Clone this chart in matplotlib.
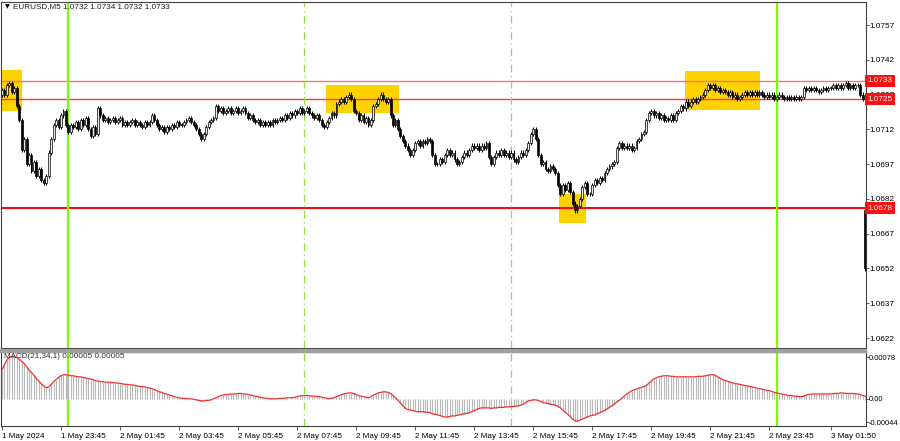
import numpy as np
import matplotlib
matplotlib.use("Agg")
import matplotlib.pyplot as plt
from matplotlib.patches import Rectangle
from matplotlib.transforms import blended_transform_factory

plt.rcParams['font.family'] = ['Liberation Sans', 'DejaVu Sans']

# EURUSD M5, 1 May 21:45 .. 3 May 03:00, close prices per bar
closes = [
    1.0729, 1.0727, 1.0731, 1.0732, 1.0728, 1.0730, 1.0722, 1.0716, 1.0703, 1.0708,
    1.0697, 1.0701, 1.0694, 1.0698, 1.0692, 1.0695, 1.0690, 1.0689, 1.0692, 1.0702,
    1.0708, 1.0714, 1.0716, 1.0713, 1.0718, 1.0720, 1.0714, 1.0711, 1.0714, 1.0713,
    1.0715, 1.0712, 1.0716, 1.0714, 1.0717, 1.0712, 1.0709, 1.0713, 1.0710, 1.0721,
    1.0718, 1.0716, 1.0717, 1.0715, 1.0716, 1.0717, 1.0715, 1.0716, 1.0717, 1.0714,
    1.0715, 1.0714, 1.0715, 1.0716, 1.0714, 1.0715, 1.0714, 1.0713, 1.0715, 1.0714,
    1.0715, 1.0718, 1.0716, 1.0714, 1.0712, 1.0713, 1.0711, 1.0713, 1.0712, 1.0714,
    1.0713, 1.0715, 1.0714, 1.0714, 1.0715, 1.0716, 1.0717, 1.0715, 1.0714, 1.0712,
    1.0710, 1.0708, 1.0710, 1.0713, 1.0715, 1.0716, 1.0717, 1.0722, 1.0720, 1.0721,
    1.0719, 1.0720, 1.0721, 1.0719, 1.0720, 1.0721, 1.0719, 1.0720, 1.0721, 1.0719,
    1.0717, 1.0718, 1.0716, 1.0715, 1.0716, 1.0714, 1.0715, 1.0714, 1.0715, 1.0714,
    1.0716, 1.0715, 1.0716, 1.0717, 1.0716, 1.0718, 1.0717, 1.0719, 1.0718, 1.0720,
    1.0719, 1.0721, 1.0719, 1.0720, 1.0721, 1.0719, 1.0718, 1.0717, 1.0718, 1.0716,
    1.0714, 1.0713, 1.0715, 1.0717, 1.0719, 1.0718, 1.0723, 1.0724, 1.0725, 1.0724,
    1.0726, 1.0727, 1.0725, 1.0720, 1.0719, 1.0716, 1.0718, 1.0715, 1.0717, 1.0714,
    1.0716, 1.0722, 1.0723, 1.0725, 1.0727, 1.0725, 1.0724, 1.0725, 1.0718, 1.0714,
    1.0716, 1.0712, 1.0709, 1.0707, 1.0705, 1.0703, 1.0701, 1.0703, 1.0706, 1.0707,
    1.0705, 1.0707, 1.0706, 1.0708, 1.0707, 1.0701, 1.0697, 1.0697, 1.0699, 1.0698,
    1.0701, 1.0703, 1.0701, 1.0702, 1.0699, 1.0697, 1.0698, 1.0700, 1.0702, 1.0701,
    1.0703, 1.0705, 1.0704, 1.0705, 1.0703, 1.0705, 1.0704, 1.0706, 1.0700, 1.0697,
    1.0700, 1.0702, 1.0701, 1.0703, 1.0701, 1.0702, 1.0700, 1.0702, 1.0699, 1.0698,
    1.0700, 1.0702, 1.0701, 1.0703, 1.0706, 1.0710, 1.0712, 1.0708, 1.0701, 1.0697,
    1.0698, 1.0695, 1.0694, 1.0696, 1.0695, 1.0693, 1.0688, 1.0684, 1.0688, 1.0686,
    1.0689, 1.0685, 1.0680, 1.0677, 1.0679, 1.0682, 1.0687, 1.0689, 1.0684, 1.0684,
    1.0688, 1.0690, 1.0689, 1.0691, 1.0690, 1.0693, 1.0695, 1.0696, 1.0697, 1.0698,
    1.0704, 1.0706, 1.0704, 1.0705, 1.0704, 1.0705, 1.0703, 1.0704, 1.0707, 1.0708,
    1.0710, 1.0711, 1.0716, 1.0719, 1.0720, 1.0718, 1.0719, 1.0717, 1.0718, 1.0716,
    1.0717, 1.0716, 1.0718, 1.0716, 1.0719, 1.0720, 1.0722, 1.0721, 1.0724, 1.0722,
    1.0724, 1.0725, 1.0724, 1.0725, 1.0726, 1.0727, 1.0729, 1.0731, 1.0730, 1.0731,
    1.0729, 1.0730, 1.0728, 1.0729, 1.0728, 1.0727, 1.0728, 1.0726, 1.0727, 1.0725,
    1.0726, 1.0727, 1.0728, 1.0727, 1.0728, 1.0727, 1.0728, 1.0727, 1.0728, 1.0727,
    1.0726, 1.0727, 1.0726, 1.0727, 1.0725, 1.0726, 1.0727, 1.0726, 1.0725, 1.0726,
    1.0725, 1.0726, 1.0725, 1.0726, 1.0725, 1.0726, 1.0730, 1.0729, 1.0730, 1.0729,
    1.0730, 1.0729, 1.0728, 1.0729, 1.0730, 1.0729, 1.0730, 1.0730, 1.0731, 1.0730,
    1.0731, 1.0730, 1.0731, 1.0732, 1.0730, 1.0731, 1.0730, 1.0731, 1.0731, 1.0727,
    1.0725, 1.0652,
]
first_open = 1.0727
last_open = 1.0677
wick = 0.00009

# MACD(21,34,1) main value per bar, in units of 1e-5
macd_e5 = [
    54, 64, 72, 78, 79, 78, 77, 74, 70, 66,
    60, 54, 49, 44, 38, 33, 28, 24, 21, 22,
    27, 32, 36, 40, 43, 45, 45, 44, 43, 43,
    42, 41, 41, 40, 39, 38, 37, 36, 34, 33,
    32, 32, 31, 31, 31, 30, 30, 29, 29, 28,
    27, 27, 26, 26, 25, 24, 23, 23, 22, 21,
    20, 19, 17, 15, 13, 12, 10, 9, 7, 6,
    4, 3, 2, 1, 1, 0, 0, 0, -1, -2,
    -3, -4, -4, -3, -3, -2, 0, 2, 4, 6,
    7, 8, 8, 9, 9, 9, 10, 10, 9, 9,
    8, 7, 6, 5, 4, 3, 2, 1, 1, 0,
    0, 0, 0, 1, 1, 1, 2, 2, 2, 3,
    4, 5, 6, 6, 6, 6, 5, 5, 4, 4,
    3, 2, 1, 0, 1, 2, 4, 6, 8, 9,
    10, 11, 11, 10, 8, 6, 5, 4, 3, 2,
    4, 7, 9, 11, 12, 13, 13, 12, 10, 6,
    2, -3, -8, -13, -18, -20, -21, -22, -23, -24,
    -24, -24, -25, -25, -26, -28, -29, -30, -31, -33,
    -34, -34, -33, -32, -32, -31, -30, -29, -28, -27,
    -26, -24, -22, -20, -18, -17, -17, -17, -17, -18,
    -17, -17, -16, -16, -16, -15, -15, -15, -14, -14,
    -13, -12, -10, -7, -4, -3, -2, -2, -3, -5,
    -7, -8, -9, -10, -11, -12, -14, -17, -21, -25,
    -29, -33, -38, -41, -42, -40, -38, -36, -34, -32,
    -31, -30, -28, -26, -24, -22, -19, -16, -13, -10,
    -6, -3, 1, 5, 9, 12, 15, 17, 18, 20,
    21, 23, 25, 29, 33, 37, 39, 41, 42, 43,
    43, 43, 42, 42, 41, 41, 41, 41, 41, 41,
    41, 41, 41, 42, 42, 42, 43, 44, 45, 45,
    44, 41, 38, 36, 34, 33, 31, 30, 28, 28,
    27, 26, 25, 24, 23, 22, 21, 20, 19, 18,
    17, 16, 15, 14, 12, 11, 10, 9, 8, 7,
    6, 6, 5, 5, 4, 4, 5, 7, 8, 9,
    9, 9, 9, 9, 9, 9, 9, 9, 10, 10,
    10, 11, 11, 10, 10, 10, 10, 9, 9, 8,
    6, 5,
]

# time axis labels (bar index -> text)
time_ticks = [0, 24, 48, 72, 96, 120, 144, 168, 192, 216, 240, 264, 288, 312, 337]
time_labels = ["1 May 2024", "1 May 23:45", "2 May 01:45", "2 May 03:45", "2 May 05:45",
               "2 May 07:45", "2 May 09:45", "2 May 11:45", "2 May 13:45", "2 May 15:45",
               "2 May 17:45", "2 May 19:45", "2 May 21:45", "2 May 23:45", "3 May 01:50"]

price_ticks = [1.0757, 1.0742, 1.0727, 1.0712, 1.0697, 1.0682, 1.0667, 1.0652, 1.0637, 1.0622]
levels = [1.0733, 1.0725, 1.0678]
level_colors = ["#f07878", "#ff3a3a", "#ff0000"]
level_widths = [1.0, 1.0, 1.4]

day_lines = [27, 315]        # midnight
session_lines = [123, 207]   # 08:00 and 15:00

# yellow zones: (bar from, bar to, price low, price high)
zones = [(-0.8, 8.1, 1.07199, 1.07376),
         (131.8, 161.5, 1.07190, 1.07311),
         (226.6, 237.6, 1.06716, 1.06841),
         (277.9, 308.4, 1.07203, 1.07372)]

closes = np.array(closes)
opens = np.concatenate([[first_open], closes[:-1]])
opens[-1] = last_open
highs = np.maximum(opens, closes) + wick
lows = np.minimum(opens, closes) - wick
macd = np.array(macd_e5) * 1e-5
n = len(closes)
idx = np.arange(n)

W, H = 900, 441
fig = plt.figure(figsize=(W / 100, H / 100), dpi=100)
fig.patch.set_facecolor("white")

ax = fig.add_axes([1 / W, (H - 348) / H, 864.5 / W, 346 / H])
axm = fig.add_axes([1 / W, (H - 426) / H, 864.5 / W, 74 / H])

xmin, xmax = -0.4, 351.1
ax.set_xlim(xmin, xmax)
ax.set_ylim(1.061769, 1.076692)
axm.set_xlim(xmin, xmax)
axm.set_ylim(-0.000508, 0.000874)

# separator between panels
fig.patches.append(Rectangle((0, (H - 352) / H), 865.5 / W, 3 / H,
                             transform=fig.transFigure, color="#a0a0a0", zorder=5))

for x0, x1, lo, hi in zones:
    ax.add_patch(Rectangle((x0, lo), x1 - x0, hi - lo, color="#ffd200", zorder=1, lw=0))

for lv, c, lw in zip(levels, level_colors, level_widths):
    ax.axhline(lv, color=c, lw=lw, zorder=2)

for a in (ax, axm):
    for b in day_lines:
        a.axvline(b, color="#7cfc00", lw=1.6, zorder=2)
    for b in session_lines:
        a.axvline(b, color="#8ee03a", lw=0.9, ls=(0, (6, 3, 1, 3)), zorder=2)

# candles
bw = 0.75
ax.vlines(idx, lows, highs, color="black", lw=0.7, zorder=3)
for i in range(n):
    o, c = opens[i], closes[i]
    bottom = min(o, c)
    h = max(abs(c - o), 0.000015)
    fc = "#e8e8e8" if c >= o else "black"
    ax.add_patch(Rectangle((i - bw / 2, bottom), bw, h, facecolor=fc,
                           edgecolor="black", lw=0.5, zorder=4))

# MACD histogram and signal line
axm.vlines(idx, 0, macd, color="#b8b8b8", lw=0.8, zorder=3)
axm.plot(idx, macd, color="#ee3030", lw=0.9, zorder=4)

fs = 5.9
for a in (ax, axm):
    for s in a.spines.values():
        s.set_color("#404040")
        s.set_linewidth(0.8)
    a.yaxis.tick_right()
    a.tick_params(axis="y", direction="out", length=2, width=0.6, color="#404040",
                  labelsize=fs, pad=0.8, labelcolor="black")

ax.set_yticks(price_ticks)
ax.set_yticklabels([f"{p:.4f}" for p in price_ticks])
ax.set_xticks([])

axm.set_yticks([0.00078, 0.0, -0.00044])
axm.set_yticklabels(["0.00078", "0.00", "-0.00044"])
axm.tick_params(axis="y", labelsize=5.4, pad=0.5)
axm.set_xticks(time_ticks)
axm.set_xticklabels(time_labels, ha="left")
axm.tick_params(axis="x", direction="out", length=3, width=0.6, color="#404040",
                labelsize=fs, pad=2)

# price labels for levels
tr = blended_transform_factory(ax.transAxes, ax.transData)
for lv in levels:
    ax.text(1.002, lv, f"{lv:.4f}", transform=tr, ha="left", va="center", fontsize=fs,
            color="white", zorder=10, clip_on=False,
            bbox=dict(boxstyle="square,pad=0.3", facecolor="#ff1010", edgecolor="none"))

fig.text(5 / W, 1 - 7 / H, "\u25bc", fontsize=4.5, va="center", ha="left",
         family="DejaVu Sans")
fig.text(13 / W, 1 - 7 / H, "EURUSD,M5 1.0732 1.0734 1.0732 1.0733", fontsize=fs,
         va="center", ha="left", color="#202020")
fig.text(4 / W, 1 - 357 / H, "MACD(21,34,1) 0.00005 0.00005", fontsize=fs,
         va="center", ha="left", color="#303030", zorder=10)

fig.savefig("out.png", dpi=100, facecolor="white")
